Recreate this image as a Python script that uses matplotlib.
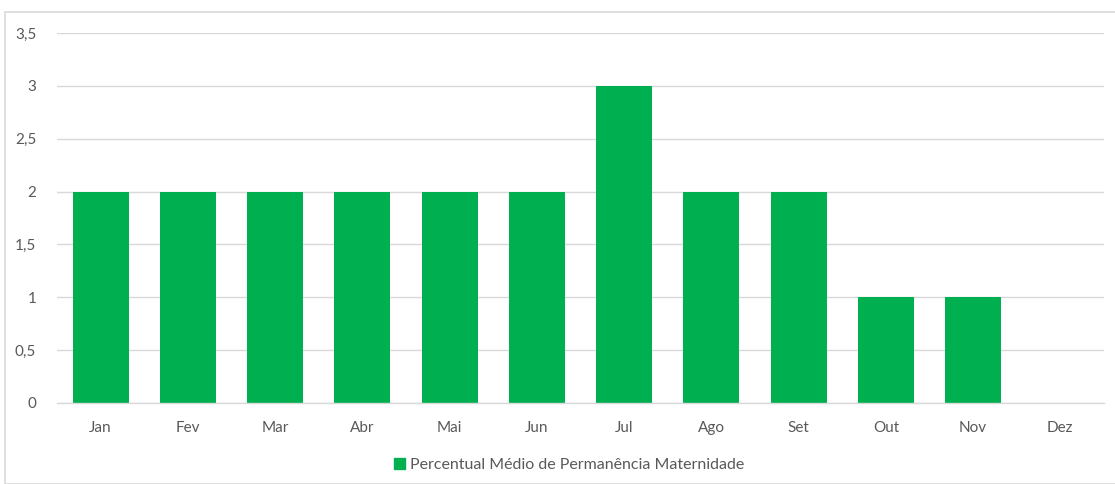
import matplotlib
matplotlib.use('Agg')
import matplotlib.pyplot as plt
from matplotlib.patches import Rectangle, Patch

meses = ['Jan', 'Fev', 'Mar', 'Abr', 'Mai', 'Jun', 'Jul', 'Ago', 'Set', 'Out', 'Nov', 'Dez']
permanencia = [2, 2, 2, 2, 2, 2, 3, 2, 2, 1, 1, 0]
ticks_y = [0, 0.5, 1, 1.5, 2, 2.5, 3, 3.5]
ticks_y_labels = ['0', '0,5', '1', '1,5', '2', '2,5', '3', '3,5']
serie = 'Percentual Médio de Permanência Maternidade'

plt.rcParams['font.family'] = ['Lato', 'DejaVu Sans']
verde = '#00B050'
cinza_texto = '#595959'
cinza_linha = '#D9D9D9'

fig = plt.figure(figsize=(11.15, 4.84), dpi=100)
ax = fig.add_axes([57 / 1115, 1 - 403 / 484, (1104 - 57) / 1115, (403 - 33) / 484])

x = range(len(meses))
ax.bar(x, permanencia, width=0.64, color=verde, zorder=3)

ax.set_xlim(-0.5, len(meses) - 0.5)
ax.set_ylim(0, 3.5)
ax.set_xticks(list(x))
ax.set_xticklabels(meses)
ax.set_yticks(ticks_y)
ax.set_yticklabels(ticks_y_labels)
ax.tick_params(axis='both', length=0, labelsize=11, colors=cinza_texto)
ax.tick_params(axis='x', pad=13)
ax.tick_params(axis='y', pad=15)
ax.grid(axis='y', color=cinza_linha, linewidth=1, zorder=0)
for lado in ['top', 'right', 'left']:
    ax.spines[lado].set_visible(False)
ax.spines['bottom'].set_color(cinza_linha)
ax.spines['bottom'].set_linewidth(1)
ax.spines['bottom'].set_zorder(4)

fig.legend(handles=[Patch(color=verde, label=serie)], loc='center',
           bbox_to_anchor=(569 / 1115, 1 - 465 / 484), frameon=False,
           handlelength=0.7, handleheight=0.7, handletextpad=0.3,
           prop={'size': 11.5}, labelcolor=cinza_texto)

# moldura do gráfico
fig.patches.append(Rectangle((5 / 1115, 0), 1.2, 1 - 12 / 484, transform=fig.transFigure,
                             fill=False, edgecolor=cinza_linha, linewidth=1.2))

fig.savefig('out.png', dpi=100)
